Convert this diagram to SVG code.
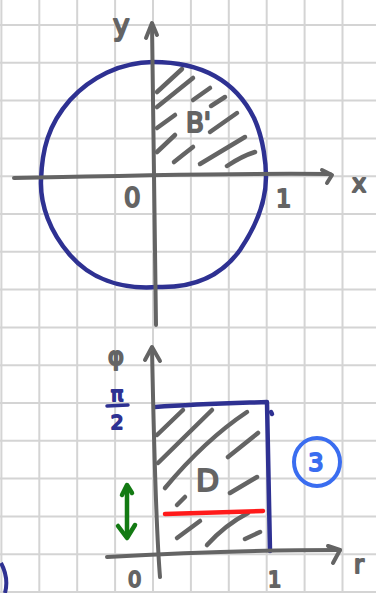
<svg xmlns="http://www.w3.org/2000/svg" width="376" height="593" viewBox="0 0 376 593">
<style>
.grid line{stroke:#d4d4d4;stroke-width:2}
.ax{stroke:#646464;stroke-width:4;fill:none;stroke-linecap:round;stroke-linejoin:round}
.hatch{stroke:#646464;stroke-width:4.5;fill:none;stroke-linecap:round}
.blue{stroke:#2e3192;stroke-width:4.5;fill:none;stroke-linecap:round;stroke-linejoin:round}
.lbl{font-family:"DejaVu Sans",sans-serif;fill:#646464;stroke:#646464;stroke-width:2;stroke-linejoin:round}
.blbl{font-family:"DejaVu Sans",sans-serif;fill:#2e3192;stroke:#2e3192;stroke-width:2;stroke-linejoin:round}
</style>
<rect width="376" height="593" fill="#ffffff"/>
<g class="grid">
<line x1="1.4" y1="0" x2="1.4" y2="593"/>
<line x1="39.3" y1="0" x2="39.3" y2="593"/>
<line x1="77.2" y1="0" x2="77.2" y2="593"/>
<line x1="115.1" y1="0" x2="115.1" y2="593"/>
<line x1="153" y1="0" x2="153" y2="593"/>
<line x1="190.9" y1="0" x2="190.9" y2="593"/>
<line x1="228.8" y1="0" x2="228.8" y2="593"/>
<line x1="266.7" y1="0" x2="266.7" y2="593"/>
<line x1="304.6" y1="0" x2="304.6" y2="593"/>
<line x1="342.5" y1="0" x2="342.5" y2="593"/>
<line x1="0" y1="25" x2="376" y2="25"/>
<line x1="0" y1="62.8" x2="376" y2="62.8"/>
<line x1="0" y1="100.6" x2="376" y2="100.6"/>
<line x1="0" y1="138.4" x2="376" y2="138.4"/>
<line x1="0" y1="176.2" x2="376" y2="176.2"/>
<line x1="0" y1="214" x2="376" y2="214"/>
<line x1="0" y1="251.8" x2="376" y2="251.8"/>
<line x1="0" y1="289.6" x2="376" y2="289.6"/>
<line x1="0" y1="327.4" x2="376" y2="327.4"/>
<line x1="0" y1="365.2" x2="376" y2="365.2"/>
<line x1="0" y1="403" x2="376" y2="403"/>
<line x1="0" y1="440.8" x2="376" y2="440.8"/>
<line x1="0" y1="478.6" x2="376" y2="478.6"/>
<line x1="0" y1="516.4" x2="376" y2="516.4"/>
<line x1="0" y1="554.2" x2="376" y2="554.2"/>
<line x1="0" y1="592" x2="376" y2="592"/>
</g>

<g id="top-plot">
<g id="hatch-top" class="hatch">
<line x1="157" y1="92" x2="182" y2="69"/>
<line x1="157" y1="107" x2="193" y2="78"/>
<line x1="193" y1="100" x2="210" y2="88"/>
<line x1="157" y1="128" x2="175" y2="115"/>
<line x1="211" y1="106" x2="225" y2="97"/>
<line x1="157" y1="152" x2="175" y2="135"/>
<line x1="210" y1="132" x2="237" y2="113"/>
<path d="M174,162 Q184,154 193,147"/>
<line x1="200" y1="164" x2="245" y2="137"/>
<path d="M227,166 Q242,156 255,152"/>
</g>
<path id="circle" class="blue" d="M153,62 C200,62 235,80 254,118 C264,140 266,165 266,177 C266,200 257,225 240,250 C220,278 190,288 158,287 C120,290 90,278 70,255 C50,232 40,205 41,180 C42,150 48,125 70,100 C90,78 120,62 153,62 Z"/>
<g id="axes-top" class="ax">
<path d="M14,178 C100,176 250,173 330,174"/>
<path d="M322,170 L332,175 L327,183"/>
<path d="M156,325 C155,250 153,100 152,24"/>
<path d="M146,38 L152,23 L157,35"/>
</g>
<g id="labels-top">
<text class="lbl" x="113" y="35" font-size="28">y</text>
<text class="lbl" x="352" y="192" font-size="24">x</text>
<text class="lbl" x="124" y="207" font-size="26">0</text>
<text class="lbl" x="276" y="207" font-size="24">1</text>
<text class="lbl" x="186" y="132" font-size="26">B'</text>
</g>
</g>

<g id="bottom-plot">
<g id="hatch-bottom" class="hatch">
<line x1="157" y1="435" x2="183" y2="410"/>
<line x1="158" y1="463" x2="212" y2="410"/>
<path d="M165,488 Q205,440 247,412"/>
<line x1="228" y1="457" x2="258" y2="433"/>
<line x1="177" y1="505" x2="185" y2="497"/>
<line x1="230" y1="493" x2="257" y2="477"/>
<line x1="177" y1="538" x2="200" y2="521"/>
<path d="M207,545 Q225,525 248,513"/>
<line x1="245" y1="539" x2="260" y2="532"/>
</g>
<g id="rect-D" class="blue">
<path d="M155,407 C200,404 240,403 267,402 C268,450 269,500 270,551"/>
<path d="M271,412 L272,414"/>
</g>
<g id="axes-bottom" class="ax">
<path d="M160,577 C157,540 154,450 152,348"/>
<path d="M145,360 L152,347 L160,361"/>
<path d="M107,557 C180,553 280,550 340,550"/>
<path d="M328,546 L340,550 L333,563"/>
</g>
<line id="red-line" x1="165" y1="514" x2="263" y2="511" stroke="#ff1a1a" stroke-width="4.5" stroke-linecap="round"/>
<g id="green-arrow" stroke="#137a13" stroke-width="4.5" fill="none" stroke-linecap="round" stroke-linejoin="round">
<path d="M127,487 L127,537"/>
<path d="M122,495 L127,485 L132,493"/>
<path d="M118,526 L127,538 L135,525"/>
</g>
<g id="circled-3">
<ellipse cx="317" cy="462" rx="23" ry="24" fill="none" stroke="#3a6df0" stroke-width="4"/>
<text x="316" y="471" font-size="24" text-anchor="middle" font-family="DejaVu Sans, sans-serif" fill="#3a6df0" stroke="#3a6df0" stroke-width="2" stroke-linejoin="round">3</text>
</g>
<g id="labels-bottom">
<text class="lbl" x="108" y="365" font-size="24">φ</text>
<text class="blbl" x="117" y="401" font-size="20" text-anchor="middle">π</text>
<line x1="107" y1="406" x2="128" y2="405" stroke="#2e3192" stroke-width="3.5" stroke-linecap="round"/>
<text class="blbl" x="117" y="429" font-size="20" text-anchor="middle">2</text>
<text class="lbl" x="196" y="491" font-size="30">D</text>
<text class="lbl" x="128" y="587" font-size="21">0</text>
<text class="lbl" x="268" y="587" font-size="21">1</text>
<text class="lbl" x="354" y="573" font-size="24">r</text>
</g>
<path id="edge-arc" d="M1,563 Q9,578 5,593" fill="none" stroke="#2e3192" stroke-width="4"/>
</g>
</svg>
